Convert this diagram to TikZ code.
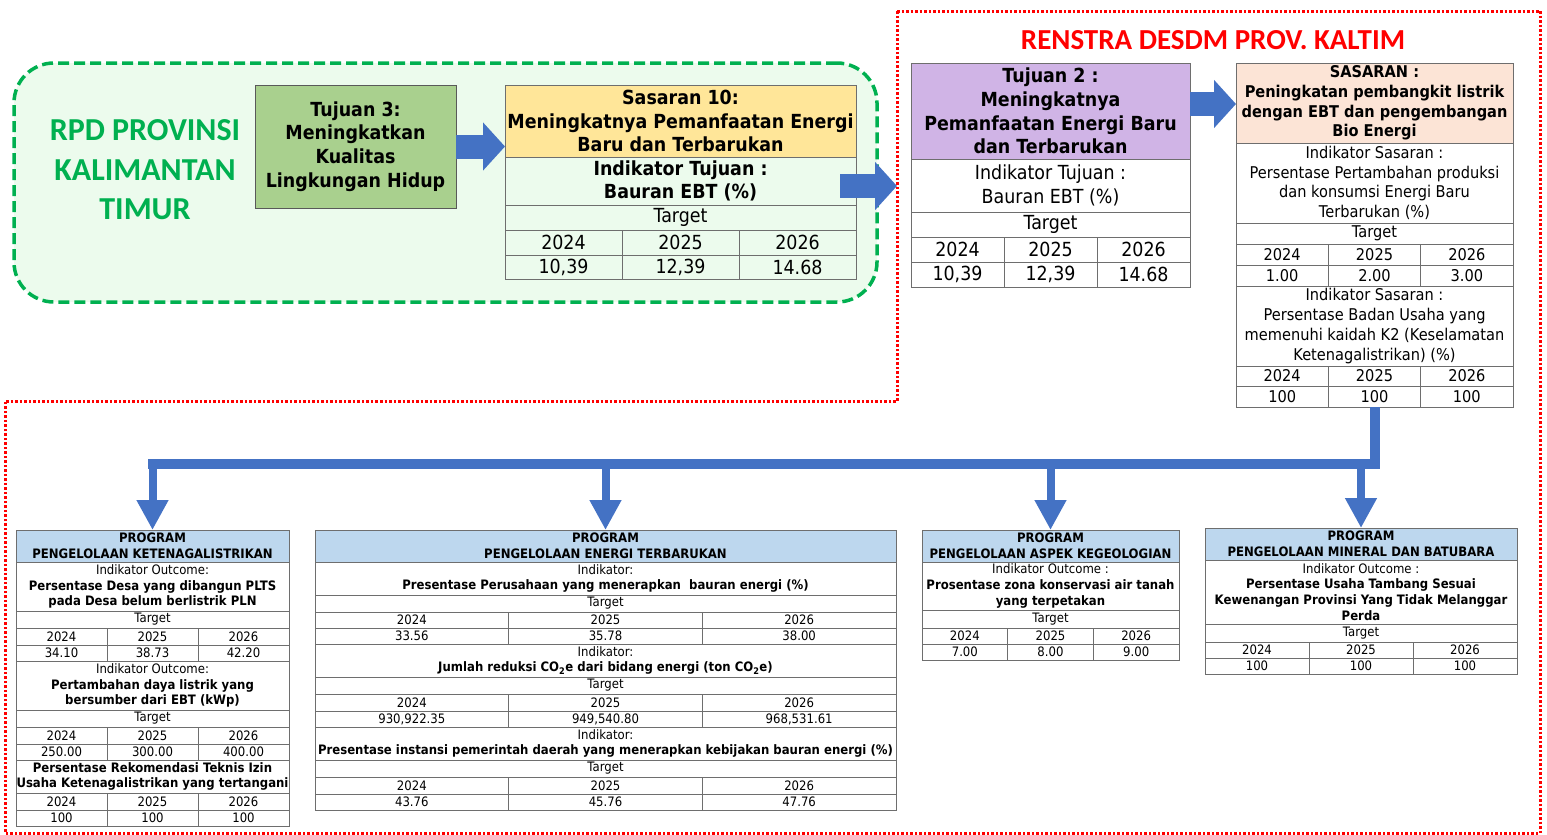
\documentclass[tikz,border=0pt]{standalone}
\usepackage{fontspec}
\setmainfont{DejaVu Sans}[FakeStretch=0.9]
\newfontfamily\headfont{Carlito}
\usetikzlibrary{arrows.meta}
\usetikzlibrary{positioning}
\definecolor{rpdgreen}{RGB}{0,176,80}
\definecolor{zonefill}{RGB}{236,251,237}
\definecolor{renstrared}{RGB}{255,0,0}
\definecolor{arrowblue}{RGB}{68,114,196}
\definecolor{cellgray}{RGB}{110,110,110}
\definecolor{tujfill}{RGB}{169,208,142}
\definecolor{sasfill}{RGB}{255,230,153}
\definecolor{tujtwofill}{RGB}{208,180,230}
\definecolor{sasarfill}{RGB}{252,228,214}
\definecolor{progfill}{RGB}{189,215,238}
\newcommand{\fbot}{\fontsize{13}{15.8}\selectfont}
\newcommand{\fsas}{\fontsize{16.2}{19.8}\selectfont}
\newcommand{\fbig}{\fontsize{19.4}{23.8}\selectfont}
\newcommand{\wide}[6][]{\node[cell, minimum width=#4, minimum height=#5, #1] (#2) at (#3) {#6};}
\newcommand{\trio}[7]{%
  \node[cell, minimum width=#3/3, minimum height=#4] (#1a) at (#2) {#5};
  \node[cell, minimum width=#3/3, minimum height=#4] (#1b) at (#1a.north east) {#6};
  \node[cell, minimum width=#3/3, minimum height=#4] (#1c) at (#1b.north east) {#7};}
\tikzset{cell/.style = {draw=cellgray, line width=1pt, anchor=north west, inner sep=0pt, outer sep=0pt, align=center, tabfont}}
\tikzset{tabfont/.style = {font=\fbot}}
\tikzset{rpdzone/.style = {draw=rpdgreen, fill=zonefill, line width=3.5pt, dash pattern=on 11pt off 5pt,
                           rounded corners=40pt, inner sep=0pt, outer sep=0pt, anchor=north west}}
\tikzset{renstra/.style = {draw=renstrared, line width=3pt, dash pattern=on 2.5pt off 2pt}}
\tikzset{bigarrow/.style = {draw=arrowblue, line width=24pt, -{Triangle[width=47pt, length=22pt]}}}
\tikzset{trunk/.style = {draw=arrowblue, line width=10pt}}
\tikzset{drop/.style = {draw=arrowblue, line width=8pt, -{Triangle[width=30pt, length=30pt]}}}

\begin{document}
\begin{tikzpicture}[x=1pt, y=-1pt]
  \useasboundingbox (0,0) rectangle (1547,835);

  \node[rpdzone, minimum width=863, minimum height=239] (zone) at (14,63) {};
  \draw[renstra] (897,11) -- (1540,11) -- (1540,833) -- (5,833) -- (5,401) -- (897,401) -- cycle;

  \node[font=\headfont\bfseries\fontsize{32}{39.5}\selectfont, text=rpdgreen, align=center] (rpd) at (145,170)
    {RPD PROVINSI\\KALIMANTAN\\TIMUR};
  \node[font=\headfont\bfseries\fontsize{29}{34}\selectfont, text=renstrared] (renstra) at (1213,40)
    {RENSTRA DESDM PROV. KALTIM};

  \node[cell, fill=tujfill, draw=black!65, minimum width=201, minimum height=123, font=\fbig\bfseries] (tuj3) at (255,85)
    {Tujuan 3:\\Meningkatkan\\Kualitas\\Lingkungan Hidup};

  % sasaran 10
  \begin{scope}[tabfont/.style={font=\fbig}]
    \wide[fill=sasfill, font=\fbig\bfseries]{s10head}{505,85}{351}{72}{Sasaran 10:\\Meningkatnya Pemanfaatan Energi\\Baru dan Terbarukan}
    \wide[font=\fbig\bfseries]{s10ind}{505,157}{351}{48}{Indikator Tujuan :\\Bauran EBT (\%)}
    \wide{s10tgt}{505,205}{351}{25}{Target}
    \trio{s10y}{505,230}{351}{25}{2024}{2025}{2026}
    \trio{s10v}{505,255}{351}{24}{10,39}{12,39}{14.68}

    \wide[fill=tujtwofill, font=\fbig\bfseries]{tuj2head}{911,63}{279}{96}{Tujuan 2 :\\Meningkatnya\\Pemanfaatan Energi Baru\\dan Terbarukan}
    \wide{tuj2ind}{911,159}{279}{53}{Indikator Tujuan :\\Bauran EBT (\%)}
    \wide{tuj2tgt}{911,212}{279}{25}{Target}
    \trio{tuj2y}{911,237}{279}{25}{2024}{2025}{2026}
    \trio{tuj2v}{911,262}{279}{25}{10,39}{12,39}{14.68}
  \end{scope}

  % sasaran renstra
  \begin{scope}[tabfont/.style={font=\fsas}]
    \wide[fill=sasarfill, font=\fsas\bfseries]{sashead}{1236,63}{277}{80}{SASARAN :\\Peningkatan pembangkit listrik\\dengan EBT dan pengembangan\\Bio Energi}
    \wide{sasind}{1236,143}{277}{80}{Indikator Sasaran :\\Persentase Pertambahan produksi\\dan konsumsi Energi Baru\\Terbarukan (\%)}
    \wide{sastgt}{1236,223}{277}{21}{Target}
    \trio{sasy}{1236,244}{277}{21}{2024}{2025}{2026}
    \trio{sasv}{1236,265}{277}{21}{1.00}{2.00}{3.00}
    \wide{sasindb}{1236,286}{277}{80}{Indikator Sasaran :\\Persentase Badan Usaha yang\\memenuhi kaidah K2 (Keselamatan\\Ketenagalistrikan) (\%)}
    \trio{sasyb}{1236,366}{277}{20}{2024}{2025}{2026}
    \trio{sasvb}{1236,386}{277}{21}{100}{100}{100}
  \end{scope}

  % program ketenagalistrikan
  \wide[fill=progfill, font=\fbot\bfseries]{pahead}{16,530}{273}{32}{PROGRAM\\PENGELOLAAN KETENAGALISTRIKAN}
  \wide{paind}{16,562}{273}{49}{Indikator Outcome:\\\textbf{Persentase Desa yang dibangun PLTS}\\\textbf{pada Desa belum berlistrik PLN}}
  \wide{patgt}{16,611}{273}{17}{Target}
  \trio{pay}{16,628}{273}{17}{2024}{2025}{2026}
  \trio{pav}{16,645}{273}{16}{34.10}{38.73}{42.20}
  \wide{paindb}{16,661}{273}{49}{Indikator Outcome:\\\textbf{Pertambahan daya listrik yang}\\\textbf{bersumber dari EBT (kWp)}}
  \wide{patgtb}{16,710}{273}{17}{Target}
  \trio{payb}{16,727}{273}{17}{2024}{2025}{2026}
  \trio{pavb}{16,744}{273}{16}{250.00}{300.00}{400.00}
  \wide[font=\fbot\bfseries]{paindc}{16,760}{273}{33}{Persentase Rekomendasi Teknis Izin\\Usaha Ketenagalistrikan yang tertangani}
  \trio{payc}{16,793}{273}{17}{2024}{2025}{2026}
  \trio{pavc}{16,810}{273}{16}{100}{100}{100}

  % program energi terbarukan
  \wide[fill=progfill, font=\fbot\bfseries]{pbhead}{315,530}{581}{32}{PROGRAM\\PENGELOLAAN ENERGI TERBARUKAN}
  \wide{pbind}{315,562}{581}{33}{Indikator:\\\textbf{Presentase Perusahaan yang menerapkan\ \ bauran energi (\%)}}
  \wide{pbtgt}{315,595}{581}{17}{Target}
  \trio{pby}{315,612}{581}{16}{2024}{2025}{2026}
  \trio{pbv}{315,628}{581}{16}{33.56}{35.78}{38.00}
  \wide{pbindb}{315,644}{581}{33}{Indikator:\\\textbf{Jumlah reduksi CO\textsubscript{2}e dari bidang energi (ton CO\textsubscript{2}e)}}
  \wide{pbtgtb}{315,677}{581}{17}{Target}
  \trio{pbyb}{315,694}{581}{17}{2024}{2025}{2026}
  \trio{pbvb}{315,711}{581}{16}{930,922.35}{949,540.80}{968,531.61}
  \wide{pbindc}{315,727}{581}{33}{Indikator:\\\textbf{Presentase instansi pemerintah daerah yang menerapkan kebijakan bauran energi (\%)}}
  \wide{pbtgtc}{315,760}{581}{17}{Target}
  \trio{pbyc}{315,777}{581}{17}{2024}{2025}{2026}
  \trio{pbvc}{315,794}{581}{16}{43.76}{45.76}{47.76}

  % program kegeologian
  \wide[fill=progfill, font=\fbot\bfseries]{pchead}{922,530}{257}{32}{PROGRAM\\PENGELOLAAN ASPEK KEGEOLOGIAN}
  \wide{pcind}{922,562}{257}{48}{Indikator Outcome :\\\textbf{Prosentase zona konservasi air tanah}\\\textbf{yang terpetakan}}
  \wide{pctgt}{922,610}{257}{18}{Target}
  \trio{pcy}{922,628}{257}{16}{2024}{2025}{2026}
  \trio{pcv}{922,644}{257}{16}{7.00}{8.00}{9.00}

  % program minerba
  \wide[fill=progfill, font=\fbot\bfseries]{pdhead}{1205,528}{312}{32}{PROGRAM\\PENGELOLAAN MINERAL DAN BATUBARA}
  \wide{pdind}{1205,560}{312}{64}{Indikator Outcome :\\\textbf{Persentase Usaha Tambang Sesuai}\\\textbf{Kewenangan Provinsi Yang Tidak Melanggar}\\\textbf{Perda}}
  \wide{pdtgt}{1205,624}{312}{18}{Target}
  \trio{pdy}{1205,642}{312}{16}{2024}{2025}{2026}
  \trio{pdv}{1205,658}{312}{16}{100}{100}{100}

  \coordinate (rpdexit) at (840,186);
  \coordinate (bus) at (0,464);

  \draw[bigarrow] (tuj3.east) -- (tuj3.east -| s10head.west);
  \draw[bigarrow, shorten >=14pt] (rpdexit) -- (rpdexit -| tuj2head.west);
  \draw[bigarrow] ([yshift=7pt]tuj2head.east) -- ([yshift=7pt]tuj2head.east -| sashead.west);

  \draw[trunk] (sasvbb.south) -- (sasvbb.south |- bus) -- ([xshift=-5pt]pahead.north |- bus);
  \draw[drop] (pahead.north |- bus) -- (pahead.north);
  \draw[drop] (pbhead.north |- bus) -- (pbhead.north);
  \draw[drop] (pchead.north |- bus) -- (pchead.north);
  \draw[drop] (pdhead.north |- bus) -- (pdhead.north);
\end{tikzpicture}
\end{document}
